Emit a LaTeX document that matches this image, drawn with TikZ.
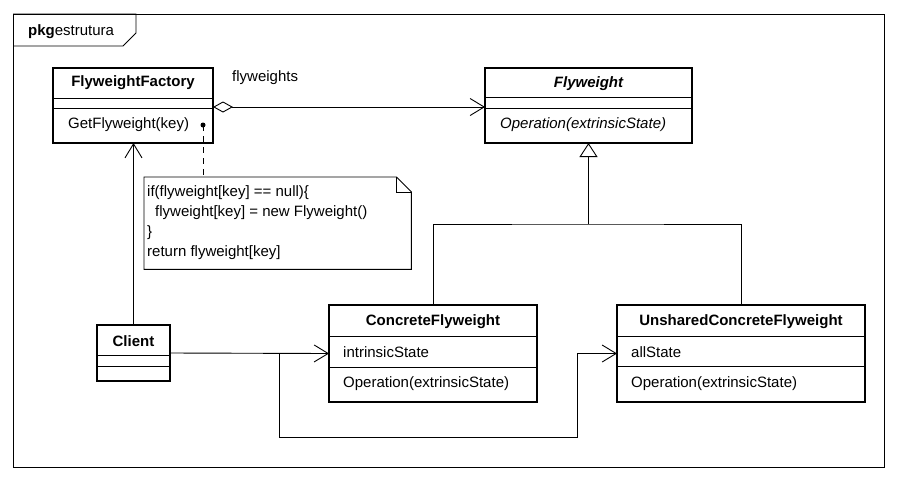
\documentclass[tikz,border=0pt]{standalone}
\usepackage{fontspec}
\setmainfont{Liberation Sans}
\usetikzlibrary{arrows.meta}
\begin{document}
\begin{tikzpicture}[x=1pt,y=-1pt,
  cls/.style={draw, line width=2.8pt, anchor=north west, inner sep=0pt, outer sep=0pt, rectangle},
  sep/.style={line width=0.9pt},
  txt/.style={font=\fontsize{15}{18}\selectfont, inner sep=0pt, anchor=west},
  ttl/.style={font=\fontsize{15}{18}\selectfont\bfseries, inner sep=0pt},
  conn/.style={line width=0.9pt},
  openarrow/.style={-{Straight Barb[length=14pt,width=17pt,line width=0.9pt]}},
  inherit/.style={-{Triangle[open,length=14pt,width=18pt,line width=0.9pt,fill=white]}},
  aggr/.style={{Diamond[open,length=20pt,width=11pt,line width=0.9pt,fill=white]}-{Straight Barb[length=14pt,width=17pt,line width=0.9pt]}}
]
\useasboundingbox (0,0) rectangle (897,480);
\fill[white] (0,0) rectangle (897,480);

% package frame
\draw[line width=0.9pt] (13,14) rectangle (884,467);
\draw[line width=0.9pt] (13,14) -- (136,14) -- (136,33) -- (123,46) -- (13,46);
\node[txt] (pkg) at (28,32) {\textbf{pkg}estrutura};

% classes
\node[cls, minimum width=160pt, minimum height=75pt] (ff) at (53,68) {};
\draw[sep] (53,98) -- (213,98) (53,108) -- (213,108);
\node[ttl] (ffn) at (133,83) {FlyweightFactory};
\node[txt] (ffo) at (68,125) {GetFlyweight(key)};

\node[cls, minimum width=207pt, minimum height=75pt] (fw) at (485,68) {};
\draw[sep] (485,97.5) -- (692,97.5) (485,108) -- (692,108);
\node[ttl] (fwn) at (588.5,84) {\itshape Flyweight};
\node[txt] (fwo) at (500,125) {\itshape Operation(extrinsicState)};

\node[cls, minimum width=208pt, minimum height=97pt] (cf) at (329,305) {};
\draw[sep] (329,336) -- (537,336) (329,367) -- (537,367);
\node[ttl] (cfn) at (433,322) {ConcreteFlyweight};
\node[txt] (cfa) at (343,352) {intrinsicState};
\node[txt] (cfo) at (343,384) {Operation(extrinsicState)};

\node[cls, minimum width=248pt, minimum height=97pt] (uf) at (617,305) {};
\draw[sep] (617,336) -- (865,336) (617,366) -- (865,366);
\node[ttl] (ufn) at (741,322) {UnsharedConcreteFlyweight};
\node[txt] (ufa) at (631,352) {allState};
\node[txt] (ufo) at (631,384) {Operation(extrinsicState)};

\node[cls, minimum width=73pt, minimum height=56pt] (cl) at (97,325) {};
\draw[sep] (97,355) -- (170,355) (97,366) -- (170,366);
\node[ttl] (cln) at (133.5,341) {Client};

% aggregation
\draw[conn, aggr] ([yshift=-1.5pt]ff.east) -- ([yshift=-1.5pt]fw.west);
\node[txt] (lbl) at (232,78) {flyweights};

% inheritance
\coordinate (hb) at (588.5,224);
\draw[conn] (cf.north) |- (hb) -| (uf.north);
\draw[conn, inherit] (hb) -- (fw.south);

% client associations
\draw[conn, openarrow] (cl.north) -- (ff.south -| cl.north);
\draw[conn, openarrow] (cl.east) -- (cf.west);
\coordinate (j1) at (279,353);
\coordinate (j2) at (577,437);
\draw[conn, openarrow] (j1) |- (j2) |- (uf.west);

% note
\node[anchor=north west, inner sep=0pt, minimum width=267pt, minimum height=92pt] (note) at (144,177) {};
\draw[line width=0.9pt] (note.north west) -- ([xshift=-15pt]note.north east) -- ([yshift=-15pt]note.north east) -- (note.south east) -- (note.south west) -- cycle;
\draw[line width=0.9pt] ([xshift=-15pt]note.north east) -- ([xshift=-15pt,yshift=-15pt]note.north east) -- ([yshift=-15pt]note.north east);
\node[anchor=north west, inner sep=0pt, align=left, font=\fontsize{15}{20.3}\selectfont] (notetext) at (147,185) {if(flyweight[key] == null)\{\\\hspace*{8pt}flyweight[key] = new Flyweight()\\\}\\return flyweight[key]};

\fill (203,125) circle (2.5pt) coordinate (dot);
\draw[line width=0.9pt, dash pattern=on 6pt off 5pt] (dot) -- (note.north -| dot);
\end{tikzpicture}
\end{document}
